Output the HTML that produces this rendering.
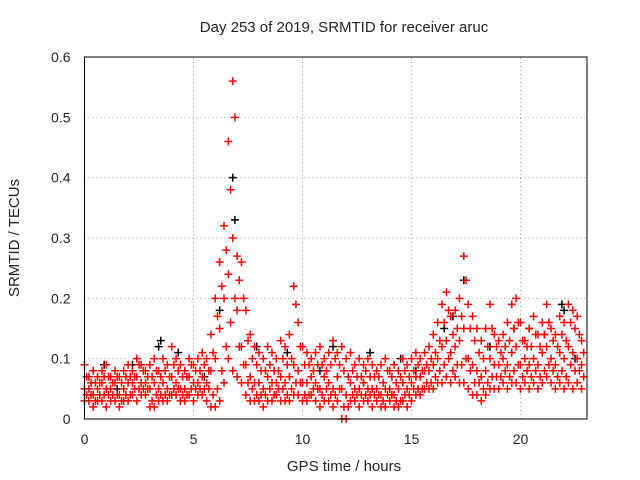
<!DOCTYPE html>
<html><head><meta charset="utf-8"><style>
body{margin:0;background:#fff}
svg{display:block;font-family:"Liberation Sans",sans-serif}
</style></head><body>
<svg id="chart" width="640" height="480" viewBox="0 0 640 480"></svg>
<script>
const yTicks=[0,0.1,0.2,0.3,0.4,0.5,0.6];
const yTickLabels=["0","0.1","0.2","0.3","0.4","0.5","0.6"];
const xTicks=[0,5,10,15,20];
const xTickLabels=["0","5","10","15","20"];
const stepHours=0.2;
const redHigh=[.09,.07,.08,.07,.08,.09,.07,.08,.07,.08,.09,.08,.1,.09,.08,.09,.1,.08,.1,.09,.12,.1,.09,.08,.1,.09,.1,.11,.1,.14,.2,.26,.32,.46,.56,.27,.26,.18,.14,.12,.11,.1,.12,.11,.1,.13,.12,.14,.22,.16,.12,.11,.1,.11,.12,.1,.11,.13,.11,.12,.1,.11,.09,.1,.09,.1,.09,.08,.09,.1,.08,.09,.08,.1,.09,.1,.11,.1,.11,.12,.14,.16,.19,.21,.17,.18,.2,.27,.19,.17,.15,.13,.15,.19,.14,.13,.14,.16,.19,.2,.16,.13,.15,.17,.14,.16,.19,.15,.14,.17,.16,.19,.18,.17,.13];
const redMid=[.05,.05,.04,.05,.06,.05,.05,.06,.04,.05,.06,.06,.07,.06,.06,.05,.06,.05,.06,.05,.07,.06,.05,.05,.07,.06,.06,.07,.06,.08,.1,.15,.2,.24,.3,.18,.12,.09,.07,.06,.06,.05,.07,.06,.06,.07,.06,.07,.09,.08,.06,.06,.07,.06,.05,.07,.06,.05,.07,.05,.04,.06,.05,.05,.06,.05,.05,.05,.04,.05,.05,.04,.05,.06,.05,.06,.07,.07,.08,.08,.09,.1,.12,.13,.11,.12,.13,.15,.1,.09,.08,.07,.08,.1,.09,.09,.1,.09,.11,.12,.09,.1,.09,.1,.09,.11,.12,.1,.09,.11,.1,.12,.11,.1,.09];
const redLow=[.03,.03,.02,.03,.03,.02,.03,.03,.02,.03,.03,.04,.03,.04,.04,.02,.02,.03,.03,.03,.04,.04,.03,.03,.04,.03,.04,.04,.03,.02,.02,.03,.06,.1,.08,.07,.06,.04,.03,.03,.03,.02,.03,.03,.04,.03,.03,.03,.04,.04,.03,.03,.04,.03,.02,.03,.03,.02,.03,0,0,.03,.03,.02,.03,.03,.02,.03,.02,.02,.03,.02,.02,.03,.02,.03,.04,.04,.05,.05,.05,.06,.06,.07,.06,.07,.06,.06,.05,.04,.04,.03,.04,.05,.05,.05,.06,.05,.06,.06,.05,.06,.05,.06,.05,.06,.07,.06,.05,.06,.05,.06,.05,.06,.05];
const redUpperMid=[.07,.06,.06,.06,.07,.07,.06,.07,.06,.07,.07,.07,.09,.08,.07,.07,.08,.07,.08,.07,.09,.08,.07,.07,.09,.08,.08,.09,.08,.11,.17,.22,.28,.38,.5,.23,.2,.13,.1,.09,.08,.08,.09,.08,.08,.1,.09,.1,.19,.12,.09,.09,.08,.09,.09,.08,.09,.1,.09,.08,.07,.08,.07,.07,.08,.07,.07,.07,.06,.08,.07,.06,.07,.08,.07,.08,.09,.08,.09,.1,.11,.13,.16,.18,.14,.15,.17,.23,.15,.13,.11,.1,.12,.15,.12,.11,.12,.13,.15,.16,.13,.12,.12,.14,.12,.14,.16,.13,.12,.14,.13,.16,.15,.14,.11];
const redLowerMid=[.04,.04,.03,.04,.04,.04,.04,.04,.03,.04,.04,.05,.05,.05,.05,.03,.04,.04,.04,.04,.05,.05,.04,.04,.05,.05,.05,.05,.05,.04,.05,.08,.12,.16,.2,.12,.09,.06,.05,.04,.04,.04,.05,.04,.05,.05,.04,.05,.06,.06,.04,.04,.05,.05,.04,.05,.04,.04,.05,.02,.02,.04,.04,.04,.04,.04,.04,.04,.03,.04,.04,.03,.03,.04,.04,.05,.05,.05,.06,.06,.07,.08,.09,.1,.08,.09,.09,.1,.08,.06,.06,.05,.06,.07,.07,.07,.08,.07,.08,.09,.07,.08,.07,.08,.07,.08,.09,.08,.07,.08,.07,.09,.08,.08,.07];
const blackHours=[6.8,6.9,3.4,3.5,17.4,16.5,21.9,22,0.9,4.3,7.9,9.3,13.1,14.5,19.7,20.4,18.6,11.4,6.2,2.2,15.2,16.9,21.1,22.5,10.8,12.8,1.5,5.5];
const blackValues=[.4,.33,.12,.13,.23,.15,.19,.18,.09,.11,.12,.11,.11,.1,.15,.15,.12,.12,.18,.09,.08,.17,.14,.1,.08,.06,.05,.07];

const svg=document.getElementById('chart');
const NS='http://www.w3.org/2000/svg';
const X0=84.5,X1=587,Y0=419,Y1=57;
const xs=h=>X0+h*21.8;
const ys=v=>Y0-(v/0.6)*(Y0-Y1);
function mk(t,a,p){const e=document.createElementNS(NS,t);for(const k in a)e.setAttribute(k,a[k]);(p||svg).appendChild(e);return e;}
const grid=mk('g',{});


yTicks.forEach((v,i)=>{
  if(i>0&&i<yTicks.length-1){const l=mk('line',{x1:X0,x2:X1,y1:ys(v),y2:ys(v),stroke:'#a0a0a0','stroke-dasharray':'1,3'},grid);}
  const t=mk('text',{x:X0-14,y:ys(v)+5,'text-anchor':'end','font-size':'14',fill:'#222'});
  
  
  t.textContent=yTickLabels[i];
});
xTicks.forEach((v,i)=>{
  if(i>0){const l=mk('line',{x1:xs(v),x2:xs(v),y1:Y0,y2:Y1,stroke:'#a0a0a0','stroke-dasharray':'1,3'},grid);}
  const t=mk('text',{x:xs(v),y:Y0+25,'text-anchor':'middle','font-size':'14',fill:'#222'});
  
  
  t.textContent=xTickLabels[i];
});
function plus(g,h,v,c){const x=xs(h),y=ys(v);const p=mk('path',{d:`M${x-4} ${y}H${x+4}M${x} ${y-4}V${y+4}`,stroke:c,'stroke-width':1.5},g);
  
  }
const gb=mk('g',{});


blackHours.forEach((h,i)=>plus(gb,h,blackValues[i],'#000'));
const gr=mk('g',{});


[redHigh,redMid,redLow].forEach(arr=>arr.forEach((v,i)=>plus(gr,i*stepHours,v,'#f00')));
[redUpperMid,redLowerMid].forEach(arr=>arr.forEach((v,i)=>plus(gr,i*stepHours+stepHours/2,v,'#f00')));
const fr=mk('rect',{x:X0,y:Y1,width:X1-X0,height:Y0-Y1,fill:'none',stroke:'#000','stroke-width':1});


const tt=mk('text',{x:344,y:32,'text-anchor':'middle','font-size':'15',fill:'#222'});


tt.textContent='Day 253 of 2019, SRMTID for receiver aruc';
const xl=mk('text',{x:344,y:471,'text-anchor':'middle','font-size':'15',fill:'#222'});


xl.textContent='GPS time / hours';
const yl=mk('text',{x:0,y:0,'text-anchor':'middle','font-size':'15',fill:'#222',transform:'translate(19,238) rotate(-90)'});


yl.textContent='SRMTID / TECUs';
</script>
</body></html>
